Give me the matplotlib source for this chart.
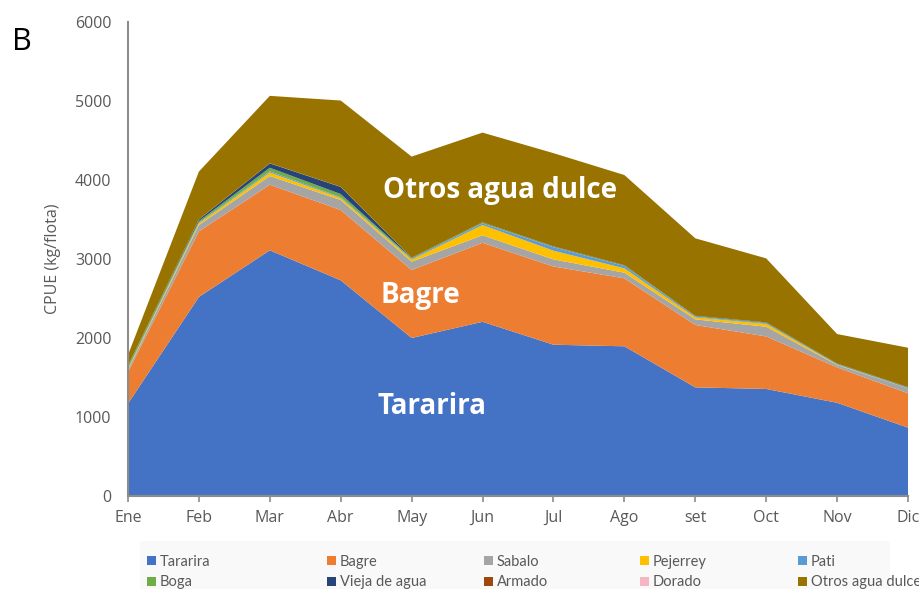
import numpy as np
import matplotlib
matplotlib.use('Agg')
import matplotlib.pyplot as plt
from matplotlib.patches import Patch, Rectangle

# datos (CPUE kg/flota por mes)
meses = ['Ene', 'Feb', 'Mar', 'Abr', 'May', 'Jun', 'Jul', 'Ago', 'set', 'Oct', 'Nov', 'Dic']
tararira = [1170, 2520, 3110, 2730, 2000, 2205, 1915, 1895, 1375, 1355, 1180, 865]
bagre = [400, 830, 830, 890, 860, 1000, 990, 860, 790, 665, 448, 435]
sabalo = [30, 80, 110, 127, 106, 95, 90, 72, 71, 123, 30, 63]
pejerrey = [10, 20, 45, 25, 25, 130, 110, 55, 25, 35, 5, 0]
pati = [5, 10, 15, 10, 10, 20, 45, 30, 10, 10, 5, 5]
boga = [30, 20, 45, 40, 10, 10, 5, 5, 5, 5, 5, 5]
vieja = [5, 20, 55, 90, 5, 5, 5, 5, 5, 5, 5, 5]
armado = [0, 2, 2, 2, 0, 0, 0, 0, 0, 0, 0, 0]
dorado = [0, 0, 0, 0, 0, 0, 0, 0, 0, 0, 0, 0]
otros = [135, 605, 853, 1092, 1280, 1135, 1180, 1141, 981, 810, 372, 499]

especies = ['Tararira', 'Bagre', 'Sabalo', 'Pejerrey', 'Pati',
            'Boga', 'Vieja de agua', 'Armado', 'Dorado', 'Otros agua dulce']
series = [tararira, bagre, sabalo, pejerrey, pati, boga, vieja, armado, dorado, otros]
colores = ['#4472C4', '#ED7D31', '#A5A5A5', '#FFC000', '#5B9BD5',
           '#70AD47', '#264478', '#9E480E', '#F4B6C2', '#997300']

gris = '#595959'
plt.rcParams['font.family'] = ['Open Sans', 'DejaVu Sans']

fig = plt.figure(figsize=(9.2, 5.89), dpi=100)
ax = fig.add_axes([128 / 920, 1 - 496 / 589, 780 / 920, 474 / 589])

x = np.arange(len(meses))
ax.stackplot(x, *series, colors=colores, linewidth=0)

ax.set_xlim(0, 11)
ax.set_ylim(0, 6000)
ax.set_xticks(x)
ax.set_xticklabels(meses)
ax.set_yticks(range(0, 6001, 1000))
ax.tick_params(axis='x', colors='#8c8c8c', labelcolor=gris, labelsize=11.5,
               length=4, width=1.2, pad=6)
ax.tick_params(axis='y', length=0, labelcolor=gris, labelsize=11.5, pad=12)
for s in ['top', 'right']:
    ax.spines[s].set_visible(False)
for s in ['left', 'bottom']:
    ax.spines[s].set_color('#8c8c8c')
    ax.spines[s].set_linewidth(1.5)
ax.set_ylabel('CPUE (kg/flota)', color=gris, fontsize=11.5, labelpad=10)

# etiquetas dentro de las areas
ax.text(5.25, 3873, 'Otros agua dulce', color='white', fontsize=20,
        fontweight='bold', ha='center', va='center')
ax.text(4.12, 2544, 'Bagre', color='white', fontsize=20,
        fontweight='bold', ha='center', va='center')
ax.text(4.29, 1127, 'Tararira', color='white', fontsize=20,
        fontweight='bold', ha='center', va='center')

fig.text(12 / 920, 1 - 42 / 589, 'B', fontsize=22, va='center', ha='left')

# leyenda: fondo gris claro y 5 columnas de 2 filas
fig.patches.append(Rectangle((140 / 920, 0), 750 / 920, 48 / 589,
                             transform=fig.transFigure, facecolor='#f9f9f9',
                             edgecolor='none', zorder=0))
col_x = [144, 324, 481, 637, 795]
for i in range(5):
    idx = [i, i + 5]
    h = [Patch(facecolor=colores[j], edgecolor='none') for j in idx]
    fig.legend(h, [especies[j] for j in idx], loc='upper left',
               bbox_to_anchor=(col_x[i] / 920, 1 - 552 / 589),
               frameon=False, ncol=1, labelcolor=gris,
               handlelength=0.6, handleheight=0.6, handletextpad=0.3,
               labelspacing=0.45, borderpad=0.2, borderaxespad=0,
               prop={'family': ['Lato', 'DejaVu Sans'], 'size': 10.5})

fig.savefig('out.png', dpi=100)
